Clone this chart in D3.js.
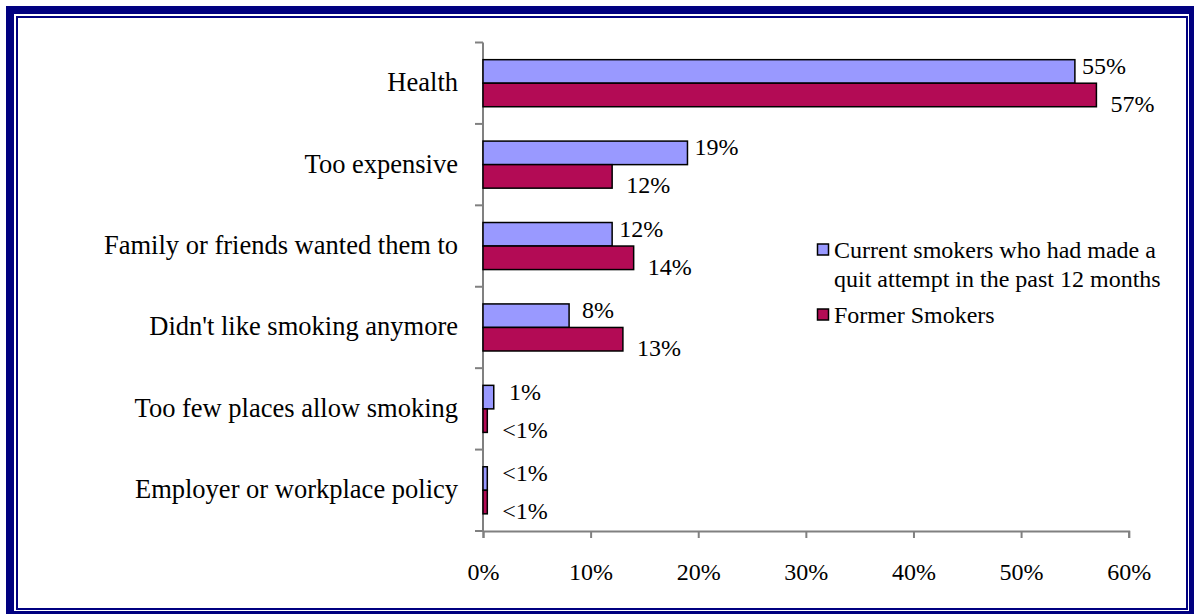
<!DOCTYPE html>
<html>
<head>
<meta charset="utf-8">
<script src="https://cdn.jsdelivr.net/npm/d3@7"></script>
</head>
<body style="margin:0;padding:0;background:#fff;">
<svg id="chart" width="1194" height="614" style="display:block" font-family="Liberation Serif, Times New Roman, Times, serif"></svg>
<script>
// Reasons for quitting smoking, by respondent group
const categories = [
  "Health",
  "Too expensive",
  "Family or friends wanted them to",
  "Didn't like smoking anymore",
  "Too few places allow smoking",
  "Employer or workplace policy"
];
const seriesNames = [
  ["Current smokers who had made a", "quit attempt in the past 12 months"],
  ["Former Smokers"]
];
// Values in percent; "<1%" entries are drawn as small bars
const currentValues = [55, 19, 12, 8, 1, 0.4];
const formerValues  = [57, 12, 14, 13, 0.4, 0.4];
const currentLabels = ["55%", "19%", "12%", "8%", "1%", "<1%"];
const formerLabels  = ["57%", "12%", "14%", "13%", "<1%", "<1%"];
const xTicks = [0, 10, 20, 30, 40, 50, 60];

const colors = ["#9999FF", "#B30B55"];
const FONT = "Liberation Serif, Times New Roman, Times, serif";

const svg = d3.select("#chart");

// Double navy frame
svg.append("rect").attr("x", 10).attr("y", 10).attr("width", 1183).attr("height", 605)
  .attr("fill", "none").attr("stroke", "#000080").attr("stroke-width", 8);
svg.append("rect").attr("x", 17).attr("y", 17).attr("width", 1170).attr("height", 592)
  .attr("fill", "none").attr("stroke", "#000080").attr("stroke-width", 2);

const plot = { left: 483, right: 1128.7, top: 42.5, bottom: 531 };

const x = d3.scaleLinear().domain([0, 60]).range([plot.left, plot.right]);
const y = d3.scaleBand().domain(categories).range([plot.top, plot.bottom]);
const inner = d3.scaleBand().domain([0, 1]).range([0, y.bandwidth()]).paddingInner(0).paddingOuter(0.73);

// Value axis along the bottom
const xAxis = d3.axisBottom(x).tickValues(xTicks).tickFormat(d => d + "%")
  .tickSize(7).tickSizeOuter(7).tickPadding(25);
const gx = svg.append("g").attr("transform", `translate(0,${plot.bottom})`).call(xAxis)
  .attr("font-family", FONT).attr("font-size", 24);
gx.select(".domain").attr("stroke", "#808080").attr("stroke-width", 2);
gx.selectAll(".tick line").attr("stroke", "#808080").attr("stroke-width", 2);
gx.selectAll(".tick text").attr("font-family", FONT).attr("font-size", 24).attr("fill", "#000");

// Category axis on the left
const yAxis = d3.axisLeft(y).tickSize(0).tickPadding(25);
const gy = svg.append("g").attr("transform", `translate(${plot.left},0)`).call(yAxis)
  .attr("font-family", FONT).attr("font-size", 26.5);
gy.select(".domain").remove();
gy.selectAll(".tick text").attr("font-family", FONT).attr("font-size", 26.5).attr("fill", "#000")
  .attr("dy", "0.3em");

// Separator ticks between categories
const sepPositions = categories.map(c => y(c)).concat([plot.bottom]);
svg.append("g").selectAll("line").data(sepPositions).join("line")
  .attr("x1", plot.left - 8).attr("x2", plot.left)
  .attr("y1", d => d).attr("y2", d => d)
  .attr("stroke", "#808080").attr("stroke-width", 2);
svg.append("line").attr("x1", plot.left).attr("x2", plot.left)
  .attr("y1", plot.top).attr("y2", plot.bottom)
  .attr("stroke", "#808080").attr("stroke-width", 2);

// Bars and their value labels (labels centred a fixed distance past the bar end)
const series = [
  { values: currentValues, labels: currentLabels, color: colors[0], dx: 29, dy: 2.5 },
  { values: formerValues,  labels: formerLabels,  color: colors[1], dx: 36, dy: 17 }
];
series.forEach((s, si) => {
  const g = svg.append("g");
  g.selectAll("rect").data(categories).join("rect")
    .attr("x", x(0))
    .attr("y", c => y(c) + inner(si))
    .attr("width", (c, i) => x(s.values[i]) - x(0))
    .attr("height", inner.bandwidth())
    .attr("fill", s.color)
    .attr("stroke", "#000")
    .attr("stroke-width", 1.5);
  g.selectAll("text").data(categories).join("text")
    .attr("x", (c, i) => Math.max(x(s.values[i]) + s.dx, x(0) + 42))
    .attr("y", c => y(c) + inner(si) + inner.bandwidth() / 2 + s.dy)
    .attr("text-anchor", "middle")
    .attr("font-family", FONT)
    .attr("font-size", 24)
    .text((c, i) => s.labels[i]);
});

// Legend
const legend = svg.append("g");
const legendTop = [244, 309];
seriesNames.forEach((lines, si) => {
  legend.append("rect").attr("x", 817.5).attr("y", legendTop[si]).attr("width", 11).attr("height", 11)
    .attr("fill", colors[si]).attr("stroke", "#000").attr("stroke-width", 1.5);
  lines.forEach((ln, k) => {
    legend.append("text").attr("x", 834).attr("y", legendTop[si] + 14 + k * 29)
      .attr("font-family", FONT).attr("font-size", 24).text(ln);
  });
});
</script>
</body>
</html>
